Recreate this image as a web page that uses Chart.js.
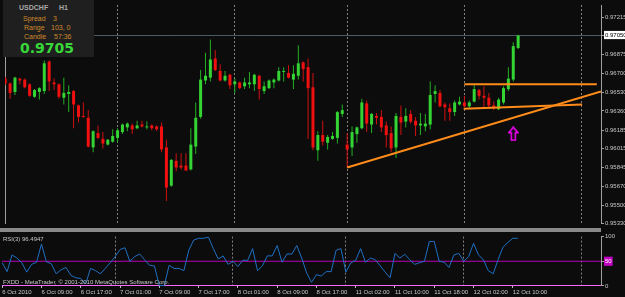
<!DOCTYPE html>
<html>
<head>
<meta charset="utf-8">
<script src="https://cdn.jsdelivr.net/npm/chart.js@4.4.0/dist/chart.umd.min.js"></script>
<style>
  html, body { margin: 0; padding: 0; background: #0c0c0c; overflow: hidden; }
  #wrap { position: relative; width: 625px; height: 297px; font-family: "Liberation Sans", Arial, sans-serif; }
  canvas { position: absolute; left: 0; }
  #sep { position: absolute; left: 0; top: 228px; width: 601px; height: 4px; background: #8a8a8a; }
  #info { position: absolute; left: 3px; top: 0; width: 91px; height: 57px; background: #1f1f1f; }
  #info div { position: absolute; white-space: pre; line-height: 1; }
  .sym { font-size: 7px; font-weight: bold; color: #a8a8a8; top: 4px; }
  .row { font-size: 7px; color: #d08a2a; }
  .price { font-family: "DejaVu Sans", sans-serif; font-size: 14px; font-weight: bold; color: #38d838; left: 17px; top: 41px; }
  .small { position: absolute; font-size: 6px; line-height: 1; color: #c8c8c8; white-space: pre; }
</style>
</head>
<body>
<div id="wrap">
  <canvas id="main" width="625" height="228" style="top:0"></canvas>
  <div id="sep"></div>
  <canvas id="rsi" width="625" height="65" style="top:232px"></canvas>
  <div id="info">
    <div class="sym" style="left:16px">USDCHF</div>
    <div class="sym" style="left:56px">H1</div>
    <div class="row" style="left:20px;top:15px">Spread</div>
    <div class="row" style="left:50px;top:15px">3</div>
    <div class="row" style="left:21px;top:24px">Range</div>
    <div class="row" style="left:48px;top:24px">103, 0</div>
    <div class="row" style="left:21px;top:33px">Candle</div>
    <div class="row" style="left:51px;top:33px">57:36</div>
    <div class="price">0.9705</div>
  </div>
  <div class="small" style="left:3px;top:236px">RSI(3) 96.4947</div>
  <div class="small" style="left:3px;top:279px">FXDD - MetaTrader, © 2001-2010 MetaQuotes Software Corp.</div>
</div>
<script>
// USDCHF H1, bars from 6 Oct 2010 01:00 (index 0) to 12 Oct 2010 11:00 (index 105)
const OPEN = [
  0.96656, 0.96612, 0.96534, 0.96656, 0.96647, 0.96604, 0.96490, 0.96534, 0.96542, 0.96813,
  0.96621, 0.96604, 0.96481, 0.96516, 0.96542, 0.96411, 0.96315, 0.96298, 0.96027, 0.96158,
  0.96105, 0.96053, 0.96079, 0.96114, 0.96167, 0.96210, 0.96228, 0.96202, 0.96236, 0.96210,
  0.96228, 0.96219, 0.96219, 0.96027, 0.95677, 0.95904, 0.95861, 0.95861, 0.95826, 0.96035,
  0.96306, 0.96639, 0.96665, 0.96840, 0.96726, 0.96639, 0.96691, 0.96604, 0.96621, 0.96586,
  0.96604, 0.96604, 0.96682, 0.96542, 0.96569, 0.96621, 0.96639, 0.96717, 0.96708, 0.96647,
  0.96682, 0.96805, 0.96761, 0.96577, 0.96001, 0.96140, 0.96070, 0.96105, 0.96114, 0.96333,
  0.96053, 0.96027, 0.96149, 0.96202, 0.96429, 0.96236, 0.96315, 0.96306, 0.96228, 0.96158,
  0.96027, 0.96306, 0.96263, 0.96333, 0.96271, 0.96228, 0.96219, 0.96236, 0.96516, 0.96525,
  0.96420, 0.96385, 0.96350, 0.96420, 0.96438, 0.96403, 0.96446, 0.96551, 0.96499, 0.96481,
  0.96411, 0.96376, 0.96438, 0.96560, 0.96647, 0.96936
];
const HIGH = [
  0.96673, 0.96621, 0.96673, 0.96665, 0.96656, 0.96612, 0.96560, 0.96577, 0.96822, 0.96822,
  0.96656, 0.96612, 0.96665, 0.96595, 0.96551, 0.96420, 0.96438, 0.96368, 0.96184, 0.96228,
  0.96167, 0.96105, 0.96193, 0.96202, 0.96245, 0.96254, 0.96245, 0.96271, 0.96271, 0.96263,
  0.96236, 0.96228, 0.96254, 0.96097, 0.95922, 0.95974, 0.95974, 0.95974, 0.96202, 0.96438,
  0.96735, 0.96892, 0.97014, 0.96918, 0.96787, 0.96726, 0.96700, 0.96656, 0.96630, 0.96665,
  0.96717, 0.96700, 0.96691, 0.96630, 0.96647, 0.96656, 0.96761, 0.96761, 0.96778, 0.96778,
  0.96962, 0.96813, 0.96840, 0.96708, 0.96175, 0.96271, 0.96140, 0.96167, 0.96359, 0.96420,
  0.96158, 0.96219, 0.96219, 0.96472, 0.96455, 0.96341, 0.96341, 0.96368, 0.96263, 0.96219,
  0.96341, 0.96411, 0.96385, 0.96368, 0.96306, 0.96341, 0.96333, 0.96630, 0.96595, 0.96551,
  0.96438, 0.96429, 0.96455, 0.96490, 0.96499, 0.96455, 0.96595, 0.96560, 0.96586, 0.96525,
  0.96446, 0.96481, 0.96586, 0.96761, 0.96988, 0.97058
];
const LOW = [
  0.96595, 0.96472, 0.96507, 0.96604, 0.96569, 0.96490, 0.96481, 0.96464, 0.96516, 0.96542,
  0.96551, 0.96472, 0.96420, 0.96350, 0.96202, 0.96254, 0.96298, 0.96027, 0.95983, 0.96105,
  0.96018, 0.96044, 0.96070, 0.96070, 0.96149, 0.96175, 0.96149, 0.96193, 0.96210, 0.96193,
  0.96184, 0.96175, 0.95983, 0.95537, 0.95668, 0.95808, 0.95826, 0.95808, 0.95817, 0.95966,
  0.96289, 0.96604, 0.96630, 0.96726, 0.96630, 0.96630, 0.96560, 0.96525, 0.96560, 0.96560,
  0.96569, 0.96542, 0.96464, 0.96516, 0.96560, 0.96569, 0.96630, 0.96630, 0.96656, 0.96560,
  0.96647, 0.96630, 0.96105, 0.96001, 0.95904, 0.96044, 0.96009, 0.96097, 0.96062, 0.96306,
  0.95843, 0.95948, 0.96070, 0.96193, 0.96167, 0.96158, 0.96236, 0.96167, 0.96027, 0.95983,
  0.95931, 0.96140, 0.96210, 0.96245, 0.96132, 0.96140, 0.96175, 0.96193, 0.96438, 0.96394,
  0.96271, 0.96271, 0.96315, 0.96411, 0.96394, 0.96385, 0.96438, 0.96464, 0.96394, 0.96385,
  0.96368, 0.96368, 0.96420, 0.96542, 0.96630, 0.96927
];
const CLOSE = [
  0.96612, 0.96525, 0.96665, 0.96639, 0.96577, 0.96499, 0.96551, 0.96569, 0.96796, 0.96630,
  0.96604, 0.96490, 0.96525, 0.96534, 0.96420, 0.96306, 0.96306, 0.96035, 0.96175, 0.96114,
  0.96062, 0.96097, 0.96132, 0.96184, 0.96236, 0.96245, 0.96193, 0.96228, 0.96219, 0.96219,
  0.96202, 0.96193, 0.96009, 0.95660, 0.95913, 0.95843, 0.95843, 0.95817, 0.96053, 0.96298,
  0.96647, 0.96682, 0.96831, 0.96735, 0.96639, 0.96682, 0.96595, 0.96630, 0.96569, 0.96621,
  0.96621, 0.96691, 0.96560, 0.96586, 0.96639, 0.96647, 0.96726, 0.96726, 0.96665, 0.96700,
  0.96796, 0.96743, 0.96569, 0.96027, 0.96140, 0.96079, 0.96123, 0.96132, 0.96350, 0.96368,
  0.96009, 0.96167, 0.96210, 0.96438, 0.96245, 0.96333, 0.96298, 0.96210, 0.96140, 0.96018,
  0.96315, 0.96254, 0.96315, 0.96263, 0.96228, 0.96245, 0.96245, 0.96507, 0.96542, 0.96403,
  0.96394, 0.96350, 0.96438, 0.96446, 0.96403, 0.96438, 0.96560, 0.96499, 0.96481, 0.96411,
  0.96385, 0.96464, 0.96569, 0.96656, 0.96953, 0.97049
];
const RSI = [
  46.9, 29.0, 62.8, 56.5, 46.9, 27.9, 43.7, 48.1, 85.1, 48.9,
  45.0, 24.6, 32.8, 37.4, 21.4, 16.4, 15.1, 4.2, 35.5, 30.9,
  24.6, 35.5, 46.9, 59.5, 73.7, 77.5, 50.0, 59.5, 64.7, 53.2,
  41.8, 40.5, 1.0, 0.5, 41.8, 35.5, 35.5, 30.9, 72.3, 92.7,
  96.6, 96.6, 99.0, 75.6, 54.6, 60.9, 43.7, 50.0, 39.3, 51.9,
  51.9, 75.6, 30.9, 40.5, 60.9, 60.9, 81.9, 48.1, 64.7, 64.7,
  81.9, 56.5, 26.5, 7.4, 22.7, 20.2, 29.0, 29.0, 72.3, 75.6,
  27.9, 46.9, 51.9, 75.6, 48.1, 56.5, 53.2, 40.5, 27.9, 16.4,
  66.0, 56.5, 64.1, 53.2, 43.7, 46.9, 50.0, 90.1, 90.1, 50.0,
  48.1, 37.4, 62.8, 66.0, 50.0, 59.5, 86.3, 62.8, 53.2, 30.9,
  24.6, 53.2, 78.6, 88.2, 96.6, 96.49
];

const PRICE_TICKS = [0.97215, 0.97050, 0.96875, 0.96700, 0.96530, 0.96360, 0.96185, 0.96015, 0.95845, 0.95670, 0.95500, 0.95330];
const BID = 0.97050;
const LABEL_BARS = [0, 8, 16, 24, 32, 40, 48, 56, 64, 72, 80, 88, 96, 104];
const LABEL_TEXT = ['6 Oct 2010', '6 Oct 09:00', '6 Oct 17:00', '7 Oct 01:00', '7 Oct 09:00', '7 Oct 17:00', '8 Oct 01:00',
  '8 Oct 09:00', '8 Oct 17:00', '11 Oct 02:00', '11 Oct 10:00', '11 Oct 18:00', '12 Oct 02:00', '12 Oct 10:00'];
const DAY_BARS = [23, 47, 70, 94, 118];
const RSI_TICKS = [0, 50, 100];
const RSI_LEVEL = 50;

// drawn objects: trend line, two horizontal lines, up arrow
const TREND_BARS = [70, 121.95], TREND_PRICES = [0.95843, 0.96538];
const UPPER_BARS = [94, 121.1], UPPER_PRICES = [0.96604, 0.96604];
const LOWER_BARS = [93.85, 118.1], LOWER_PRICES = [0.96381, 0.96420];
const ARROW_BAR = 104, ARROW_PRICE = 0.96152;

const XMIN = -0.04, XMAX = 121.96;
const PRICE_MIN = 0.95336, PRICE_MAX = 0.97329;

const idx = OPEN.map((_, i) => i);
const isUp = i => CLOSE[i] >= OPEN[i];
const small = { family: 'Liberation Sans', size: 6 };
const pts = (bars, vals) => bars.map((b, i) => ({ x: b, y: vals[i] }));

function arrowIcon() {
  const c = document.createElement('canvas');
  c.width = 11; c.height = 15;
  const g = c.getContext('2d');
  g.strokeStyle = '#ff00ff';
  g.lineWidth = 1.5;
  g.beginPath();
  g.moveTo(5.5, 1); g.lineTo(10, 6.5); g.lineTo(7.5, 6.5); g.lineTo(7.5, 14);
  g.lineTo(3.5, 14); g.lineTo(3.5, 6.5); g.lineTo(1, 6.5); g.closePath();
  g.stroke();
  return c;
}

const orange = { type: 'line', yAxisID: 'y', borderColor: '#ff8c1a', borderWidth: 2, pointRadius: 0, order: 2 };

new Chart(document.getElementById('main'), {
  type: 'bar',
  data: {
    datasets: [
      { type: 'line', yAxisID: 'y', data: pts([XMIN - 1, XMAX + 1], [BID, BID]), borderColor: '#4e5c6a', borderWidth: 1, pointRadius: 0, order: 10 },
      { yAxisID: 'y', data: idx.map(i => ({ x: i, y: [LOW[i], HIGH[i]] })), backgroundColor: idx.map(i => isUp(i) ? '#22b022' : '#d01010'),
        barThickness: 1, grouped: false, inflateAmount: 0, order: 9 },
      { yAxisID: 'y', data: idx.map(i => ({ x: i, y: [OPEN[i], CLOSE[i]] })), backgroundColor: idx.map(i => isUp(i) ? '#33d433' : '#f01010'),
        barThickness: 3, minBarLength: 1, grouped: false, inflateAmount: 0, order: 8 },
      Object.assign({ data: pts(TREND_BARS, TREND_PRICES) }, orange),
      Object.assign({ data: pts(UPPER_BARS, UPPER_PRICES) }, orange),
      Object.assign({ data: pts(LOWER_BARS, LOWER_PRICES) }, orange),
      { type: 'scatter', yAxisID: 'y', data: [{ x: ARROW_BAR, y: ARROW_PRICE }], pointStyle: arrowIcon(), order: 1 }
    ]
  },
  options: {
    responsive: false,
    animation: false,
    events: [],
    layout: { padding: 0 },
    plugins: { legend: { display: false }, tooltip: { enabled: false } },
    scales: {
      x: {
        type: 'linear', min: XMIN, max: XMAX, offset: false,
        afterBuildTicks: s => { s.ticks = DAY_BARS.map(v => ({ value: v })); },
        ticks: { display: false },
        grid: { color: '#808080', drawTicks: false, offset: false },
        border: { display: false, dash: [2, 2] },
        afterFit: s => { s.height = 0; }
      },
      y: {
        position: 'right', min: PRICE_MIN, max: PRICE_MAX,
        afterBuildTicks: s => { s.ticks = PRICE_TICKS.map(v => ({ value: v })); },
        afterFit: s => { s.width = 24; },
        grid: { drawOnChartArea: false, tickLength: 3, color: '#a0a0a0' },
        border: { color: '#a0a0a0' },
        ticks: {
          font: small, padding: 1,
          color: c => c.tick && c.tick.value === BID ? '#000000' : '#c8c8c8',
          showLabelBackdrop: c => !!(c.tick && c.tick.value === BID),
          backdropColor: '#ffffff',
          backdropPadding: { top: 1, bottom: 0, left: 1, right: 3 },
          callback: v => v.toFixed(5)
        }
      },
      yl: {
        position: 'left',
        ticks: { display: false },
        grid: { display: false },
        border: { color: '#a0a0a0' },
        afterFit: s => { s.width = 2; }
      }
    }
  }
});

new Chart(document.getElementById('rsi'), {
  type: 'line',
  data: {
    datasets: [
      { xAxisID: 'x', yAxisID: 'y', data: pts([XMIN - 1, XMAX + 1], [RSI_LEVEL, RSI_LEVEL]), borderColor: '#b400b4', borderWidth: 1, pointRadius: 0, order: 2 },
      { xAxisID: 'x', yAxisID: 'y', data: idx.map(i => ({ x: i, y: RSI[i] })), borderColor: '#1f70c4', borderWidth: 1, pointRadius: 0, tension: 0, order: 1 }
    ]
  },
  options: {
    responsive: false,
    animation: false,
    events: [],
    layout: { padding: { top: 1.5, left: 2 } },
    plugins: { legend: { display: false }, tooltip: { enabled: false } },
    scales: {
      x: {
        type: 'linear', min: XMIN, max: XMAX, offset: false,
        afterBuildTicks: s => { s.ticks = LABEL_BARS.map(v => ({ value: v })); },
        afterFit: s => { s.height = 11.1; },
        grid: { drawOnChartArea: false, tickLength: 2, color: '#c8c8c8' },
        border: { color: '#ff66ff' },
        ticks: {
          font: small, color: '#c8c8c8', padding: 1, align: 'start',
          autoSkip: false, maxRotation: 0, minRotation: 0,
          callback: v => LABEL_TEXT[LABEL_BARS.indexOf(v)]
        }
      },
      x2: {
        type: 'linear', position: 'bottom', min: XMIN, max: XMAX,
        afterBuildTicks: s => { s.ticks = DAY_BARS.map(v => ({ value: v })); },
        afterFit: s => { s.height = 0; },
        ticks: { display: false },
        grid: { color: '#808080', drawTicks: false, offset: false },
        border: { display: false, dash: [2, 2] }
      },
      y: {
        position: 'right', min: 0, max: 100,
        afterBuildTicks: s => { s.ticks = RSI_TICKS.map(v => ({ value: v })); },
        afterFit: s => { s.width = 24; },
        grid: { drawOnChartArea: false, tickLength: 3, color: '#a0a0a0' },
        border: { color: '#a0a0a0' },
        ticks: {
          font: small, padding: 1,
          color: c => c.tick && c.tick.value === RSI_LEVEL ? '#ffffff' : '#c8c8c8',
          showLabelBackdrop: c => !!(c.tick && c.tick.value === RSI_LEVEL),
          backdropColor: '#c000c0',
          backdropPadding: 1
        }
      }
    }
  }
});
</script>
</body>
</html>
